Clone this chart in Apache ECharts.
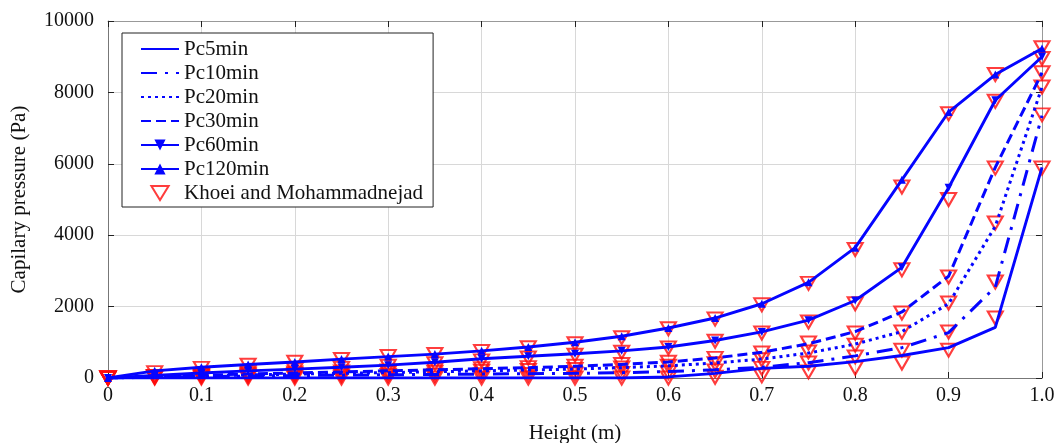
<!DOCTYPE html>
<html>
<head>
<meta charset="utf-8">
<script src="https://cdn.jsdelivr.net/npm/echarts@6/dist/echarts.min.js"></script>
<style>
  html, body { margin: 0; padding: 0; background: #ffffff; }
  #chart { width: 1057px; height: 443px; }
</style>
</head>
<body>
<div id="chart"></div>
<script>
// Sample heights along the column (m)
const heights = [0, 0.05, 0.1, 0.15, 0.2, 0.25, 0.3, 0.35, 0.4, 0.45, 0.5,
                 0.55, 0.6, 0.65, 0.7, 0.75, 0.8, 0.85, 0.9, 0.95, 1.0];

// Computed capillary pressure profiles (Pa)
const pc5min   = [0, 0, 0, 0, 0, 0, 0, 0, 0, 0, 0, 0, 30, 130, 270, 330, 460, 630, 850, 1420, 5900];
const pc10min  = [0, 20, 40, 55, 70, 80, 90, 100, 110, 120, 130, 150, 180, 230, 300, 430, 620, 850, 1270, 2550, 7350];
const pc20min  = [0, 30, 60, 85, 110, 130, 150, 175, 200, 225, 250, 290, 340, 420, 530, 700, 950, 1300, 2080, 4250, 8150];
const pc30min  = [0, 40, 80, 110, 140, 170, 200, 230, 260, 290, 330, 380, 450, 560, 720, 960, 1300, 1850, 2850, 5900, 8550];
const pc60min  = [0, 70, 140, 200, 250, 300, 360, 440, 540, 610, 680, 760, 870, 1050, 1290, 1620, 2170, 3100, 5330, 7780, 9000];
const pc120min = [0, 200, 300, 380, 450, 530, 600, 670, 760, 870, 1000, 1170, 1400, 1680, 2080, 2680, 3650, 5550, 7450, 8500, 9230];

// Khoei and Mohammadnejad reference values (Pa), one list per time
const khoei5   = [0, 0, 0, 0, 0, 0, 0, 0, 0, 0, 0, 0, 0, 20, 60, 170, 280, 420, 780, 1680, 5880];
const khoei10  = [0, 20, 30, 40, 50, 60, 70, 80, 90, 100, 110, 130, 150, 200, 270, 420, 590, 780, 1290, 2690, 7370];
const khoei20  = [0, 30, 60, 80, 100, 120, 140, 160, 190, 210, 240, 280, 330, 400, 510, 730, 920, 1290, 2100, 4340, 8150];
const khoei30  = [0, 40, 80, 110, 140, 170, 200, 230, 260, 290, 330, 380, 440, 550, 700, 980, 1260, 1820, 2830, 5880, 8550];
const khoei60  = [0, 40, 100, 160, 220, 270, 330, 400, 480, 560, 640, 720, 840, 1030, 1260, 1570, 2080, 3030, 5000, 7750, 8950];
const khoei120 = [0, 150, 270, 360, 440, 520, 600, 660, 740, 850, 960, 1130, 1380, 1650, 2050, 2650, 3600, 5350, 7400, 8500, 9250];

// Axis tick labels
const xTickLabels = ['0', '0.1', '0.2', '0.3', '0.4', '0.5', '0.6', '0.7', '0.8', '0.9', '1.0'];
const yTickLabels = ['0', '2000', '4000', '6000', '8000', '10000'];

const BLUE = '#0505ff';
const RED = '#ff0d0d';
const FONT = 'Liberation Serif';

const pairs = vals => heights.map((h, i) => [h, vals[i]]);

const lineSeries = (name, vals, extra) => Object.assign({
  name: name,
  type: 'line',
  data: pairs(vals),
  symbol: 'none',
  z: 3,
  lineStyle: { color: BLUE, width: 2.9 },
  itemStyle: { color: BLUE },
  emphasis: { disabled: true }
}, extra || {});

const khoeiPoints = [khoei5, khoei10, khoei20, khoei30, khoei60, khoei120]
  .reduce((acc, vals) => acc.concat(pairs(vals)), []);

const chart = echarts.init(document.getElementById('chart'), null, { renderer: 'canvas' });

const gridTick = { show: true, inside: true, length: 6, lineStyle: { color: '#222', width: 1 } };
// legend entries for plain lines: show only the stroke, no marker
const plainEntry = name => ({ name: name, itemStyle: { opacity: 0 } });

chart.setOption({
  animation: false,
  backgroundColor: '#ffffff',
  grid: { left: 108, right: 15, top: 21, bottom: 65, containLabel: false, outerBoundsMode: 'none' },
  legend: {
    orient: 'vertical',
    left: 122,
    top: 33,
    padding: [4, 10, 2, 18],
    itemGap: 0,
    itemWidth: 38,
    itemHeight: 14,
    backgroundColor: '#ffffff',
    borderColor: '#222',
    borderWidth: 1,
    borderRadius: 0,
    textStyle: { fontFamily: FONT, fontSize: 21, color: '#111', lineHeight: 24 },
    data: [
      plainEntry('Pc5min'),
      plainEntry('Pc10min'),
      plainEntry('Pc20min'),
      plainEntry('Pc30min'),
      { name: 'Pc60min' },
      { name: 'Pc120min' },
      { name: 'Khoei and Mohammadnejad', icon: 'path://M0,0 L16,0 L8,13 Z' }
    ]
  },
  xAxis: [{
    type: 'value',
    min: 0, max: 1, interval: 0.1,
    name: 'Height (m)',
    nameLocation: 'middle',
    nameGap: 45,
    nameTextStyle: { fontFamily: FONT, fontSize: 21, color: '#111' },
    axisLine: { show: true, lineStyle: { color: '#777', width: 1 } },
    axisTick: gridTick,
    axisLabel: {
      margin: 8, fontFamily: FONT, fontSize: 20, color: '#111',
      formatter: v => xTickLabels[Math.round(v * 10)]
    },
    splitLine: { show: true, lineStyle: { color: '#d8d8d8', width: 1 } }
  }, {
    type: 'value', position: 'top',
    min: 0, max: 1, interval: 0.1,
    axisLine: { show: true, onZero: false, lineStyle: { color: '#999', width: 1 } },
    axisTick: gridTick,
    axisLabel: { show: false },
    splitLine: { show: false }
  }],
  yAxis: [{
    type: 'value',
    min: 0, max: 10000, interval: 2000,
    name: 'Capilary pressure (Pa)',
    nameLocation: 'middle',
    nameGap: 78,
    nameTextStyle: { fontFamily: FONT, fontSize: 21, color: '#111' },
    axisLine: { show: true, lineStyle: { color: '#777', width: 1 } },
    axisTick: gridTick,
    axisLabel: {
      margin: 14, fontFamily: FONT, fontSize: 20, color: '#111',
      formatter: v => yTickLabels[Math.round(v / 2000)]
    },
    splitLine: { show: true, lineStyle: { color: '#d8d8d8', width: 1 } }
  }, {
    type: 'value', position: 'right',
    min: 0, max: 10000, interval: 2000,
    axisLine: { show: true, onZero: false, lineStyle: { color: '#999', width: 1 } },
    axisTick: gridTick,
    axisLabel: { show: false },
    splitLine: { show: false }
  }],
  series: [
    {
      name: 'Khoei and Mohammadnejad',
      type: 'scatter',
      data: khoeiPoints,
      symbol: 'triangle',
      symbolRotate: 180,
      symbolSize: [15, 13],
      clip: false,
      z: 2,
      itemStyle: { color: 'rgba(255,255,255,0)', borderColor: RED, borderWidth: 2.1 },
      emphasis: { disabled: true }
    },
    lineSeries('Pc5min', pc5min),
    lineSeries('Pc10min', pc10min, { lineStyle: { color: BLUE, width: 3, type: [16, 8, 3, 8] } }),
    lineSeries('Pc20min', pc20min, { lineStyle: { color: BLUE, width: 3, type: [3, 4] } }),
    lineSeries('Pc30min', pc30min, { lineStyle: { color: BLUE, width: 3, type: [10, 5] } }),
    lineSeries('Pc60min', pc60min, { symbol: 'triangle', symbolRotate: 180, symbolSize: 8, showSymbol: true }),
    lineSeries('Pc120min', pc120min, { symbol: 'triangle', symbolSize: 8, showSymbol: true })
  ]
});
</script>
</body>
</html>
